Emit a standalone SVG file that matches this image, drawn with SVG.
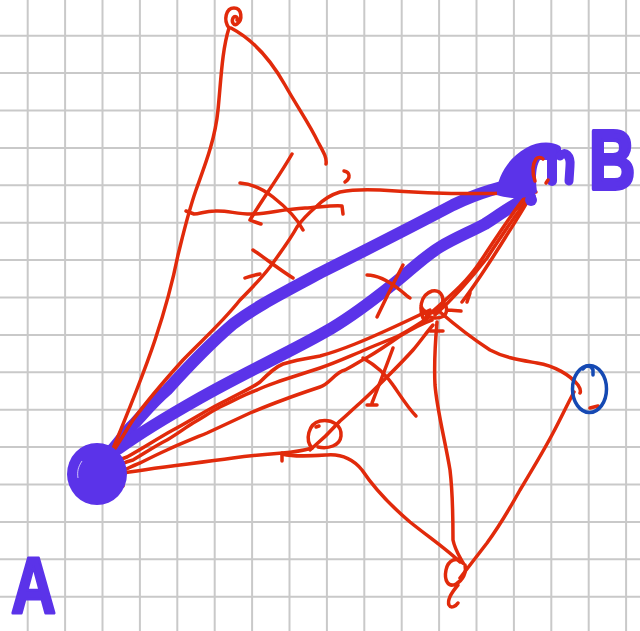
<svg xmlns="http://www.w3.org/2000/svg" width="640" height="631" viewBox="0 0 640 631">
<style>
.grid{stroke:#c9c9c9;stroke-width:2;fill:none}
.r{fill:none;stroke:#e12a0b;stroke-width:3.5;stroke-linecap:round;stroke-linejoin:round}
.p{fill:none;stroke:#5b33e9;stroke-linecap:round;stroke-linejoin:round}
.b{fill:none;stroke:#1549b3;stroke-width:3.5;stroke-linecap:round}
.lbl{font-family:"Liberation Sans",Arial,sans-serif;font-weight:bold;font-size:80px;fill:#5b33e9;stroke:#5b33e9;stroke-width:3;stroke-linejoin:round}
</style>
<rect width="640" height="631" fill="#ffffff"/>
<g id="grid">
<path class="grid" d="M27.7,0V631M65.1,0V631M102.5,0V631M139.9,0V631M177.3,0V631M214.7,0V631M252.1,0V631M289.5,0V631M326.9,0V631M364.3,0V631M401.7,0V631M439.1,0V631M476.5,0V631M513.9,0V631M551.3,0V631M588.7,0V631M626.1,0V631M0,35.7H640M0,73.1H640M0,110.5H640M0,147.9H640M0,185.3H640M0,222.7H640M0,260.1H640M0,297.5H640M0,334.9H640M0,372.3H640M0,409.7H640M0,447.1H640M0,484.5H640M0,521.9H640M0,559.3H640M0,596.7H640"/>
</g>
<g id="connectors">
<path class="p" stroke-width="12" d="M108,454 C118,445 125,432 133,425 C145,412 155,400 167,390 C185,370 205,348 233,324 C255,307 285,292 320,273 C360,253 400,233 453,205 C480,192 500,187 525,182"/>
<path class="p" stroke-width="12" d="M118,449 C140,433 170,415 200,398 C240,375 290,352 325,332 C355,315 375,298 392,285 C408,273 422,258 440,247 C455,238 470,232 485,224 C500,215 512,204 530,197"/>
<path class="r" d="M107,460 C118,445 125,432 133,420 C150,397 165,380 183,360 C200,342 220,325 240,300 C250,290 260,280 270,267 C280,253 290,240 297,227 C303,218 310,212 317,206 C323,200 330,195 340,192 C350,190 360,189 380,190 C420,193 480,195 536,192"/>
<path class="r" d="M229,28 C222,50 221,80 218,110 C215,140 205,165 196,190 C188,213 183,235 178,255 C172,285 165,310 155,340 C145,370 125,420 107,463"/>
<path class="r" d="M231,28 C250,38 268,55 285,85 C298,108 310,125 318,142 C324,153 327,158 326,164"/>
<path class="r" d="M186,211 L194,214 C200,214 205,211 215,211 C228,210 238,215 255,214 C270,213 285,209 305,208 C320,207 335,205 342,206 L343,214"/>
<path class="r" d="M344,171 C350,172 351,178 345,182"/>
<path class="r" d="M292,154 C280,175 262,200 250,220 C254,222 258,223 261,224"/>
<path class="r" d="M240,183 C252,184 262,188 273,197 C287,208 297,218 303,230"/>
<path class="r" d="M253,250 C265,258 280,270 293,278"/>
<path class="r" d="M245,278 C250,276 255,275 260,274"/>
<path class="r" d="M367,275 C378,275 390,282 400,290 C405,294 408,297 410,298"/>
<path class="r" d="M403,265 C395,280 385,300 377,317"/>
<path class="r" d="M393,348 C386,367 379,385 372,403 M367,405 L377,405"/>
<path class="r" d="M363,358 C375,365 385,373 393,385 C400,395 408,408 416,416"/>
<path class="r" d="M93,473 C110,463 118,460 127,457 C145,447 160,437 173,430 C195,418 210,408 227,400 C240,393 252,388 260,382 C268,374 275,367 283,364 C295,360 308,358 320,356 C335,352 345,348 355,344 C380,334 405,322 430,310"/>
<path class="r" d="M110,470 C118,465 125,462 133,460 C145,453 155,446 167,440 C177,434 185,428 193,423 C205,416 212,411 220,407 C235,400 245,394 257,390 C265,386 275,383 283,380 C295,376 308,372 320,368 C335,363 348,357 360,352 C375,345 390,340 400,335 C410,330 420,323 428,318"/>
<path class="r" d="M117,473 C125,470 132,466 140,463 C150,458 158,454 167,450 C180,444 195,438 207,433 C222,426 237,419 250,413 C262,408 272,404 283,400 C296,395 308,391 320,387 C330,384 335,372 345,370 C355,365 360,361 368,357 C380,350 390,343 400,336 C410,330 420,324 432,320"/>
<path class="r" d="M107,472 C102,478 103,484 109,483"/>
<path class="r" d="M122,473 C118,480 116,488 123,486"/>
<path class="r" d="M117,474 C150,468 190,464 233,458 C255,455 270,454 282,453 C295,452 305,450 312,448"/>
<path class="r" d="M282,453 L282,461"/>
<path class="r" d="M282,454 C295,457 310,456 327,455 C340,454 352,458 362,470 C372,485 390,505 410,522 C430,538 445,548 460,562"/>
<path class="r" d="M312,448 C305,440 308,424 320,421 C332,419 342,425 341,436 C340,446 328,449 318,447"/>
<path class="r" d="M316,427 L319,426"/>
<path class="r" d="M433,325 C426,333 420,342 413,350 C405,359 396,368 387,377 C378,386 369,395 360,403 C352,410 346,416 340,421 C332,430 322,440 310,450"/>
<path class="r" d="M437,322 C435,345 434,365 435,385 C437,410 445,440 450,470 C453,495 453,520 453,540 C455,550 460,557 463,563"/>
<path class="r" d="M460,578 C470,565 480,552 487,543 C500,525 510,508 520,490 C532,470 543,452 553,433 C560,420 567,405 574,392"/>
<path class="r" d="M440,312 C455,325 470,337 490,350 C505,358 520,360 537,363 C555,366 570,375 578,385 C580,388 581,391 580,393"/>
<path class="r" d="M590,408 L598,406"/>
<path class="r" d="M425,318 C445,300 465,285 480,262 C495,240 510,215 527,195"/>
<path class="r" d="M435,315 C455,297 470,280 487,258 C500,238 515,215 531,195"/>
<path class="r" d="M462,302 C475,285 490,262 505,238 C515,222 523,210 530,197"/>
<path class="r" d="M467,302 L470,293"/>
</g>
<g id="node-A">
<ellipse cx="97" cy="474" rx="30" ry="31" fill="#5b33e9"/>
<path d="M82,461 C78,467 77,472 78,478" fill="none" stroke="#ffffff" stroke-width="1" opacity="0.7"/>
</g>
<g id="node-B">
<path fill="#5b33e9" d="M497,195 C496,178 508,158 526,148 C538,141 552,141 560,146 C564,151 557,158 548,160 L540,160 C536,166 535,178 537,192 C530,199 512,200 497,195 Z"/>
<path class="p" stroke-width="10" d="M552,152 L552,181"/>
<path class="p" stroke-width="9" d="M560,156 C565,150 571,156 570,166 L569,181"/>
<circle cx="531" cy="200" r="6" fill="#5b33e9"/>
<path class="r" d="M535,181 C532,172 532,165 536,159 C538,157 541,157 543,159 M546,183 L548,180"/>
</g>
<g id="node-top">
<path class="r" d="M229,28 C223,20 226,8 234,8 C242,8 243,20 237,24 C234,26 231,22 233,18 C235,15 238,17 237,20"/>
</g>
<g id="node-knot">
<path class="r" d="M425,322 C418,310 420,295 432,291 C442,289 446,300 440,308 C434,315 424,314 421,306 M424,312 C428,318 436,320 444,316 C448,312 447,306 444,303 M430,331 L443,331 M448,310 L461,311"/>
</g>
<g id="node-bottom">
<path class="r" d="M463,563 C457,556 448,560 446,570 C444,580 448,588 456,584 C463,580 467,572 465,565 M458,585 C452,592 447,600 449,605 C451,609 456,606 458,603"/>
</g>
<g id="node-C">
<ellipse class="b" cx="589.5" cy="389" rx="17" ry="23.5"/>
<path class="b" d="M583,369 C586,365 591,365 593,370 L593,375"/>
</g>
<g id="labels">
<text class="lbl" x="11" y="613" textLength="45" lengthAdjust="spacingAndGlyphs">A</text>
<text class="lbl" transform="translate(589,189) scale(1,1.3)" x="0" y="0" style="font-size:64px">B</text>
</g>
</svg>
